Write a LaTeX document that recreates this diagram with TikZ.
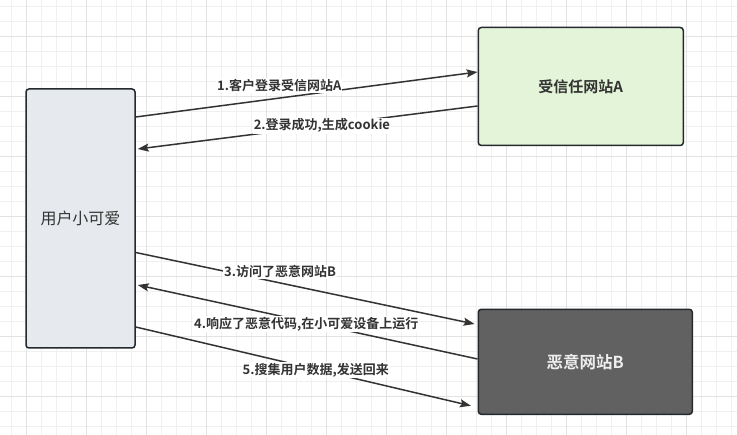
\documentclass[tikz,border=0pt]{standalone}
\usepackage{fontspec}
\setmainfont{Noto Sans CJK SC}[BoldFont={Noto Sans CJK SC Bold}]
\definecolor{gridminor}{RGB}{240,240,240}
\definecolor{gridmajor}{RGB}{226,226,226}
\definecolor{inkdark}{RGB}{51,51,51}
\definecolor{boxedge}{RGB}{36,41,46}
\definecolor{userfill}{RGB}{230,233,237}
\definecolor{trustfill}{RGB}{227,244,216}
\definecolor{evilfill}{RGB}{97,97,97}
\definecolor{eviltext}{RGB}{238,238,238}
\usetikzlibrary{arrows.meta}

\begin{document}
\begin{tikzpicture}[x=1pt, y=-1pt,
  sitebox/.style={draw=boxedge, line width=1.5pt, rounded corners=3pt,
    align=center, text=inkdark, font=\fontsize{15}{18}\selectfont},
  flow/.style={-{Stealth[length=11pt, width=8pt, inset=2pt]}, inkdark, line width=1.5pt},
  steplabel/.style={fill=white, inner sep=1pt, text=inkdark,
    font=\fontsize{13}{15}\selectfont\bfseries}]

% Grid
\useasboundingbox (0,0) rectangle (737,435);
\fill[white] (0,0) rectangle (737,435);
\foreach \gx in {11.7,26.7,...,737} \draw[gridminor, line width=1pt] (\gx,0) -- (\gx,435);
\foreach \gy in {6.7,21.7,...,435} \draw[gridminor, line width=1pt] (0,\gy) -- (737,\gy);
\foreach \gx in {26.7,86.7,...,737} \draw[gridmajor, line width=1pt] (\gx,0) -- (\gx,435);
\foreach \gy in {36.7,96.7,...,435} \draw[gridmajor, line width=1pt] (0,\gy) -- (737,\gy);

% User
\node[sitebox, fill=userfill, minimum width=109pt, minimum height=259pt,
  font=\fontsize{16}{19}\selectfont] (user)
  at (80.5,218.5) {用户小可爱};

% Trusted site
\node[sitebox, fill=trustfill, minimum width=205pt, minimum height=118pt] (siteA)
  at (580.8,86.5) {\textbf{受信任网站A}};

% Malicious site
\node[sitebox, fill=evilfill, text=eviltext, minimum width=214pt, minimum height=105pt,
  font=\fontsize{16.5}{19}\selectfont] (siteB)
  at (585.3,361.8) {\textbf{恶意网站B}};

% Arrows
\draw[flow] ([yshift=101.5pt]user.east) -- ([yshift=14.5pt]siteA.west)
  node[steplabel, pos=0.42, yshift=12.6pt] (lab1) {1.客户登录受信网站A};

\draw[flow] ([yshift=-19.5pt]siteA.west) -- ([yshift=69.5pt, xshift=2pt]user.east)
  node[steplabel, pos=0.458] (lab2) {2.登录成功,生成cookie};

\draw[flow] ([yshift=-34pt]user.east) -- ([yshift=37.8pt, xshift=-3pt]siteB.west)
  node[steplabel, pos=0.426, yshift=11pt] (lab3) {3.访问了恶意网站B};

\draw[flow] ([yshift=2.8pt]siteB.west) -- ([yshift=-66.5pt, xshift=2pt]user.east)
  node[steplabel, pos=0.504, yshift=-2.6pt] (lab4) {4.响应了恶意代码,在小可爱设备上运行};

\draw[flow] ([yshift=-108.5pt]user.east) -- ([yshift=-44pt, xshift=-6.6pt]siteB.west)
  node[steplabel, pos=0.537, yshift=-1pt] (lab5) {5.搜集用户数据,发送回来};

\end{tikzpicture}
\end{document}
